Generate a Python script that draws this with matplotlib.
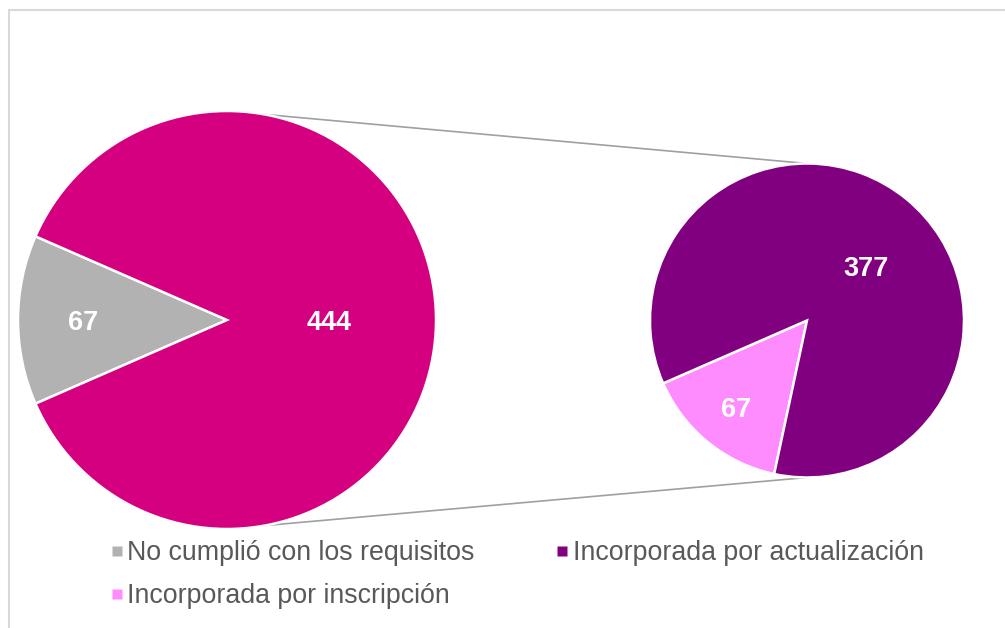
import matplotlib.pyplot as plt
from matplotlib.lines import Line2D
from matplotlib.patches import Rectangle
import numpy as np

plt.rcParams["font.family"] = ["Liberation Sans", "DejaVu Sans"]

# main pie: "No cumplió" vs total incorporated
MAIN_LABELS = ["No cumplió con los requisitos", "Incorporada"]
MAIN_VALUES = [67, 444]
MAIN_COLORS = ["#b2b2b2", "#d5007f"]

# secondary pie: breakdown of the 444
SUB_LABELS = ["Incorporada por inscripción", "Incorporada por actualización"]
SUB_VALUES = [67, 377]
SUB_COLORS = ["#ff8cff", "#800080"]

TEXT_COLOR = "#595959"
W, H = 1005, 628


def place_labels(wedges, values, center, radius, dists, shifts):
    for w, v, d, s in zip(wedges, values, dists, shifts):
        ang = np.deg2rad((w.theta1 + w.theta2) / 2 + s)
        x = center[0] + d * radius * np.cos(ang)
        y = center[1] + d * radius * np.sin(ang)
        ax.text(x, y, str(v), ha="center", va="center_baseline", color="white",
                fontsize=19.5, fontweight="bold")


fig = plt.figure(figsize=(W / 100, H / 100), dpi=100)
ax = fig.add_axes([0, 0, 1, 1])

big_c, big_r = (227, 308), 209
small_c, small_r = (807, 307.5), 157

start = 180 - MAIN_VALUES[0] / sum(MAIN_VALUES) * 180
big_w, _ = ax.pie(MAIN_VALUES, colors=MAIN_COLORS, startangle=start,
                  center=big_c, radius=big_r,
                  wedgeprops=dict(edgecolor="white", linewidth=1.8))
small_w, _ = ax.pie(SUB_VALUES, colors=SUB_COLORS,
                    startangle=start + 360 * MAIN_VALUES[0] / sum(MAIN_VALUES),
                    center=small_c, radius=small_r,
                    wedgeprops=dict(edgecolor="white", linewidth=1.8))

place_labels(big_w, MAIN_VALUES, big_c, big_r, [0.69, 0.49], [0, 0])
place_labels(small_w, SUB_VALUES, small_c, small_r, [0.71, 0.51], [0, -8])

# connector lines between the two pies
for a1, a2 in [(79.6, 90), (-79.6, -90)]:
    p1 = (big_c[0] + big_r * np.cos(np.deg2rad(a1)), big_c[1] + big_r * np.sin(np.deg2rad(a1)))
    p2 = (small_c[0] + small_r * np.cos(np.deg2rad(a2)), small_c[1] + small_r * np.sin(np.deg2rad(a2)))
    ax.plot([p1[0], p2[0]], [p1[1], p2[1]], color="#a0a0a0", linewidth=1.2, zorder=0)

ax.add_patch(Rectangle((8.5, -20), 1020, H - 9.5 + 20, fill=False,
                       edgecolor="#d9d9d9", linewidth=1.5, clip_on=False))

ax.set_xlim(0, W)
ax.set_ylim(0, H)
ax.set_aspect("equal")
ax.axis("off")

handles = [
    Line2D([], [], linestyle="none", marker="s", markersize=7,
           markerfacecolor=MAIN_COLORS[0], markeredgecolor="none", label=MAIN_LABELS[0]),
    Line2D([], [], linestyle="none", marker="s", markersize=7,
           markerfacecolor=SUB_COLORS[0], markeredgecolor="none", label=SUB_LABELS[0]),
    Line2D([], [], linestyle="none", marker="s", markersize=7,
           markerfacecolor=SUB_COLORS[1], markeredgecolor="none", label=SUB_LABELS[1]),
]
ax.legend(handles=handles, ncol=2, loc="upper left", bbox_to_anchor=(110, 88),
          bbox_transform=ax.transData, frameon=False, fontsize=19.3,
          labelcolor=TEXT_COLOR, borderpad=0, borderaxespad=0,
          handlelength=0.5, handletextpad=0.15, columnspacing=3.0,
          labelspacing=0.65)

fig.savefig("out.png", dpi=100)
